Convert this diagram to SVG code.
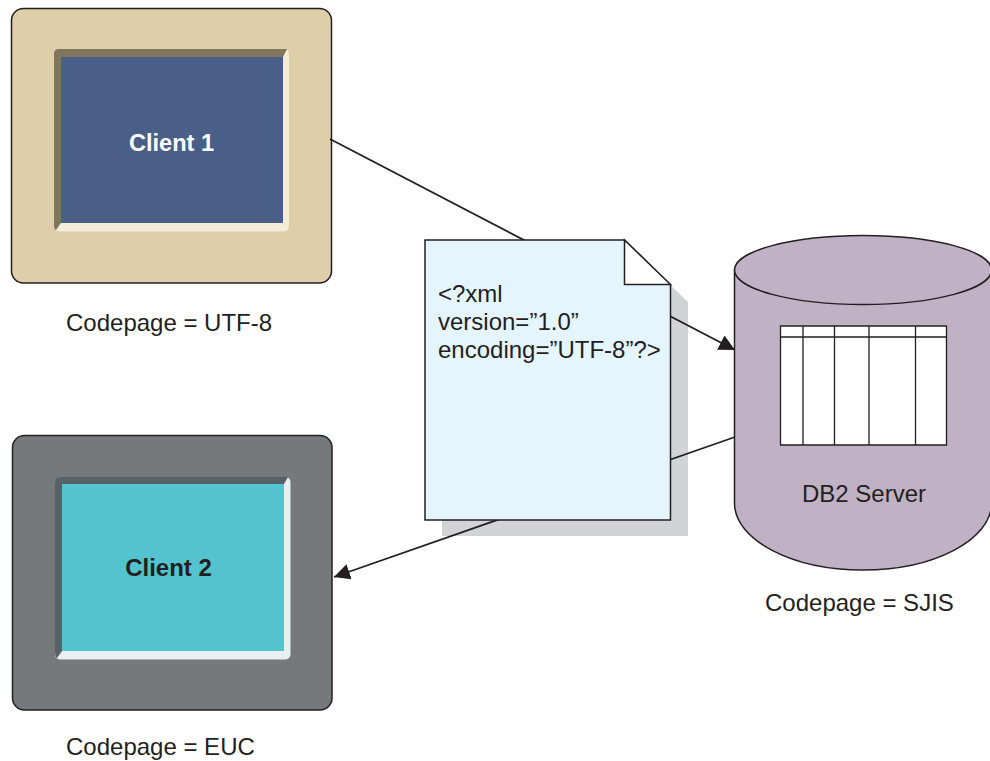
<svg xmlns="http://www.w3.org/2000/svg" width="990" height="761" viewBox="0 0 990 761">
<style>
text{font-family:"Liberation Sans",Arial,sans-serif;fill:#231f20;font-size:24px}
.b{font-weight:bold}
.o{stroke:#231f20;stroke-width:1.5}
.l{stroke:#231f20;stroke-width:1.8;fill:none}
.t{stroke:#231f20;stroke-width:1.3;fill:none}
</style>
<defs>
<marker id="arrow" markerUnits="userSpaceOnUse" markerWidth="17" markerHeight="16" refX="16" refY="8" orient="auto"><path d="M0 0L16 8L0 16Z" fill="#231f20"/></marker>
</defs>
<rect width="990" height="761" fill="#fff"/>
<g id="document-shadow">
<path d="M670.500 285L688 302V536H442V520H670.500Z" fill="#d1d3d4"/>
</g>
<g id="client1">
<rect class="o" x="11.500" y="8.500" width="320" height="274.500" rx="12" fill="#decea9"/>
<rect x="54" y="49" width="235" height="182.500" rx="5" fill="#f2ecd8"/>
<path d="M54 226V54Q54 49 59 49H287L283 57H61V223L56 230Q54 229 54 226Z" fill="#80765c"/>
<rect x="61" y="57" width="222" height="166" fill="#4a5f88"/>
<text class="b" x="171.500" y="150.500" text-anchor="middle" style="fill:#fff;font-size:23.600px">Client 1</text>
<text x="66" y="331">Codepage = UTF-8</text>
</g>
<g id="client2">
<rect class="o" x="12.500" y="435.500" width="319.500" height="274.500" rx="12" fill="#76797b"/>
<rect x="55" y="477" width="235.500" height="182.500" rx="5" fill="#e9f0f2"/>
<path d="M55 652V482Q55 477 60 477H288L284 484H62V651L57 658Q55 657 55 652Z" fill="#586167"/>
<rect x="62" y="484" width="222" height="167" fill="#53c3cf"/>
<text class="b" x="168.500" y="576" text-anchor="middle">Client 2</text>
<text x="66" y="755">Codepage = EUC</text>
</g>
<g id="connectors">
<path class="l" d="M330 139L735 350" marker-end="url(#arrow)"/>
<path class="l" d="M735 437L334 577" marker-end="url(#arrow)"/>
</g>
<g id="document">
<path class="o" d="M425 240H624.500L670.500 285V520H425Z" fill="#e5f5fe"/>
<path class="o" d="M624.500 240V284.500H670.500Z" fill="#fff"/>
<text x="438" y="302">&lt;?xml</text>
<text x="438" y="330">version=”1.0”</text>
<text x="438" y="358">encoding=”UTF-8”?&gt;</text>
</g>
<g id="server">
<path class="o" d="M734.500 270V503C734.500 540 792 570 863 570S991.500 540 991.500 503V270Z" fill="#c0b2c4"/>
<ellipse class="o" cx="863" cy="270" rx="128.500" ry="34.500" fill="#c0b2c4"/>
<rect x="780.500" y="326" width="166" height="119" fill="#fff"/>
<path class="t" d="M780.500 326H946.500V445H780.500ZM780.500 337H946.500M803 326V445M834.500 326V445M869 326V445M915.500 326V445"/>
<text x="864" y="502" text-anchor="middle">DB2 Server</text>
<text x="765" y="611">Codepage = SJIS</text>
</g>
</svg>
